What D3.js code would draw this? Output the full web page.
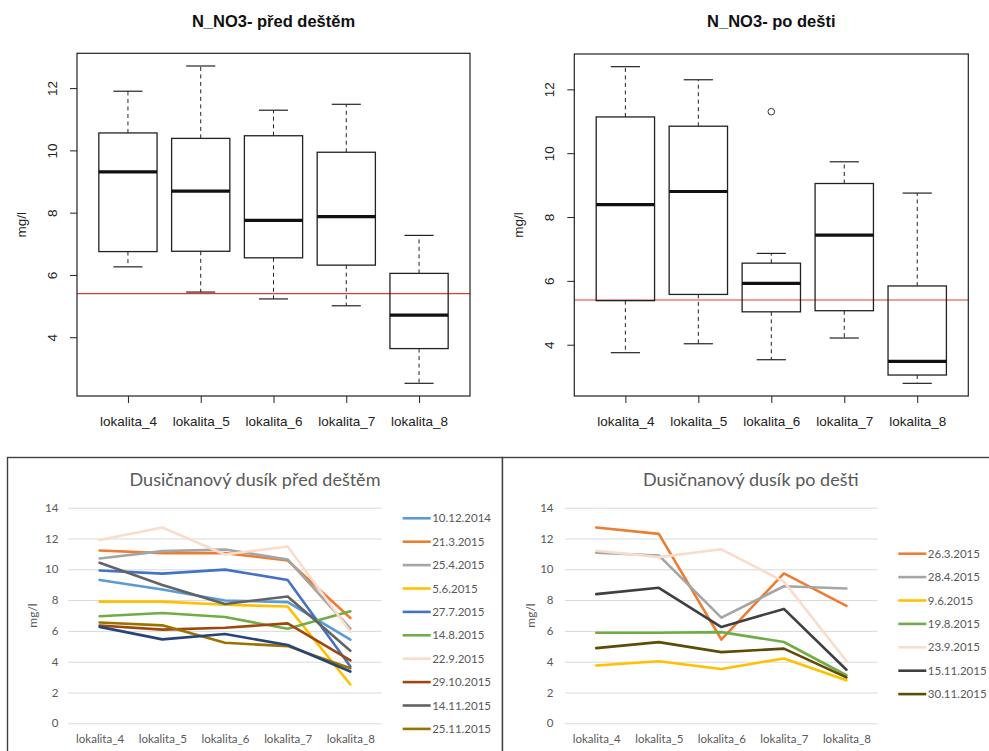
<!DOCTYPE html>
<html>
<head>
<meta charset="utf-8">
<script src="https://cdn.jsdelivr.net/npm/d3@7"></script>
<style>
  body { margin: 0; background: #fff; }
  svg { display: block; }
</style>
</head>
<body>
<svg id="chart" width="989" height="751"></svg>
<script>
// ---- data -------------------------------------------------------------
const locations = ["lokalita_4", "lokalita_5", "lokalita_6", "lokalita_7", "lokalita_8"];
const boxTicks = [4, 6, 8, 10, 12];
const lineTicks = [0, 2, 4, 6, 8, 10, 12, 14];
const limitValue = 5.4;

// Sampling before rain (values per location 4..8, mg/l)
const beforeDates = ["10.12.2014", "21.3.2015", "25.4.2015", "5.6.2015", "27.7.2015",
                     "14.8.2015", "22.9.2015", "29.10.2015", "14.11.2015", "25.11.2015", null];
const beforeColors = ["#5B9BD5", "#ED7D31", "#A5A5A5", "#FFC000", "#4472C4",
                      "#70AD47", "#FADCCB", "#9E480E", "#636363", "#997300", "#264478"];
const beforeValues = [
  [9.31, 8.69, 7.97, 7.87, 5.43],
  [11.22, 11.05, 11.05, 10.57, 6.84],
  [10.70, 11.18, 11.29, 10.64, 6.15],
  [7.90, 7.90, 7.70, 7.58, 2.52],
  [9.92, 9.72, 9.98, 9.31, 3.69],
  [6.95, 7.16, 6.90, 6.14, 7.27],
  [11.90, 12.71, 10.96, 11.48, 5.95],
  [6.35, 6.08, 6.20, 6.49, 4.08],
  [10.42, 8.98, 7.75, 8.23, 4.71],
  [6.55, 6.36, 5.23, 5.01, 3.58],
  [6.26, 5.45, 5.80, 5.08, 3.36]
];

// Sampling after rain
const afterDates = ["26.3.2015", "28.4.2015", "9.6.2015", "19.8.2015",
                    "23.9.2015", "15.11.2015", "30.11.2015"];
const afterColors = ["#ED7D31", "#A5A5A5", "#FFC000", "#70AD47",
                     "#FADCCB", "#3F3F3F", "#5E4B05"];
const afterValues = [
  [12.71, 12.30, 5.44, 9.73, 7.63],
  [11.07, 10.90, 6.86, 8.90, 8.75],
  [3.75, 4.03, 3.53, 4.21, 2.79],
  [5.88, 5.88, 5.92, 5.28, 3.12],
  [11.20, 10.79, 11.30, 9.20, 4.05],
  [8.39, 8.80, 6.25, 7.43, 3.48],
  [4.88, 5.27, 4.62, 4.85, 2.98]
];

// ---- helpers ----------------------------------------------------------
// Tukey five-number summary (same rule as R's fivenum)
function fivenum(values) {
  const x = values.slice().sort((a, b) => a - b);
  const n = x.length;
  const n4 = Math.floor((n + 3) / 2) / 2;
  const d = [1, n4, (n + 1) / 2, n + 1 - n4, n];
  return d.map(i => 0.5 * (x[Math.floor(i) - 1] + x[Math.ceil(i) - 1]));
}

// Box statistics with whiskers at 1.5 * IQR
function boxStats(values) {
  const s = fivenum(values);
  const iqr = s[3] - s[1];
  const lo = s[1] - 1.5 * iqr, hi = s[3] + 1.5 * iqr;
  const inside = values.filter(v => v >= lo && v <= hi);
  const out = values.filter(v => v < lo || v > hi);
  return { min: d3.min(inside), q1: s[1], med: s[2], q3: s[3], max: d3.max(inside), out };
}

const svg = d3.select("#chart");
const boxFont = "'Liberation Sans', Arial, sans-serif";
const xlFont = "Lato, 'Open Sans', sans-serif";

// ---- box plot panel ---------------------------------------------------
function boxPanel(cfg) {
  const { x0, x1, y0, y1, title, series } = cfg;
  const g = svg.append("g");
  const columns = locations.map((_, j) => series.map(s => s[j]));
  const stats = columns.map(boxStats);

  const all = columns.flat();
  const [lo, hi] = d3.extent(all);
  const pad = (hi - lo) * 0.04;
  const y = d3.scaleLinear().domain([lo - pad, hi + pad]).range([y1, y0]);
  const x = d3.scaleLinear().domain([0.3, locations.length + 0.7]).range([x0, x1]);
  const bw = x(0.8) - x(0);

  // limit line
  g.append("line")
    .attr("x1", x0).attr("x2", x1)
    .attr("y1", y(limitValue)).attr("y2", y(limitValue))
    .attr("stroke", "#E8392F").attr("stroke-width", 1.1);

  const box = g.selectAll("g.box").data(stats).join("g").attr("class", "box")
    .attr("transform", (d, i) => `translate(${x(i + 1)},0)`);

  // dashed whiskers
  box.append("line").attr("x1", 0).attr("x2", 0)
    .attr("y1", d => y(d.q3)).attr("y2", d => y(d.max))
    .attr("stroke", "#222").attr("stroke-dasharray", "4,3.5");
  box.append("line").attr("x1", 0).attr("x2", 0)
    .attr("y1", d => y(d.q1)).attr("y2", d => y(d.min))
    .attr("stroke", "#222").attr("stroke-dasharray", "4,3.5");
  // staples
  [d => d.max, d => d.min].forEach(f => {
    box.append("line").attr("x1", -bw / 4).attr("x2", bw / 4)
      .attr("y1", d => y(f(d))).attr("y2", d => y(f(d)))
      .attr("stroke", "#222").attr("stroke-width", 1.2);
  });
  // box
  box.append("rect")
    .attr("x", -bw / 2).attr("width", bw)
    .attr("y", d => y(d.q3)).attr("height", d => y(d.q1) - y(d.q3))
    .attr("fill", "none").attr("stroke", "#222").attr("stroke-width", 1.3);
  // median
  box.append("line").attr("x1", -bw / 2).attr("x2", bw / 2)
    .attr("y1", d => y(d.med)).attr("y2", d => y(d.med))
    .attr("stroke", "#111").attr("stroke-width", 3.2);
  // outliers
  box.selectAll("circle").data(d => d.out).join("circle")
    .attr("cx", 0).attr("cy", d => y(d)).attr("r", 3.3)
    .attr("fill", "none").attr("stroke", "#333").attr("stroke-width", 1);

  // frame
  g.append("rect").attr("x", x0).attr("y", y0)
    .attr("width", x1 - x0).attr("height", y1 - y0)
    .attr("fill", "none").attr("stroke", "#222").attr("stroke-width", 1.2);

  // y axis (labels parallel to the axis)
  const ya = g.append("g").attr("transform", `translate(${x0},0)`)
    .call(d3.axisLeft(y).tickValues(boxTicks).tickSize(7).tickFormat(d3.format("d")));
  ya.select(".domain").remove();
  ya.selectAll("line").attr("stroke", "#222");
  ya.selectAll("text")
    .attr("x", null).attr("dy", null)
    .attr("transform", "translate(-20,0) rotate(-90)")
    .style("text-anchor", "middle")
    .style("font-family", boxFont).style("font-size", "13.5px").attr("fill", "#222");

  // x axis
  const xa = g.append("g").attr("transform", `translate(0,${y1})`)
    .call(d3.axisBottom(x).tickValues(d3.range(1, locations.length + 1))
      .tickFormat(d => locations[d - 1]).tickSize(7).tickPadding(13));
  xa.select(".domain").remove();
  xa.selectAll("line").attr("stroke", "#222");
  xa.selectAll("text").style("font-family", boxFont).style("font-size", "13.5px").attr("fill", "#222");

  // axis title
  g.append("text")
    .attr("transform", `translate(${x0 - 51.5},${(y0 + y1) / 2}) rotate(-90)`)
    .attr("text-anchor", "middle")
    .style("font-family", boxFont).style("font-size", "13.5px").attr("fill", "#222")
    .text("mg/l");

  // title
  g.append("text")
    .attr("x", (x0 + x1) / 2).attr("y", 26.5)
    .attr("text-anchor", "middle")
    .style("font-family", boxFont).style("font-size", "16.5px").style("font-weight", "bold")
    .attr("fill", "#111")
    .text(title);
}

boxPanel({ x0: 77, x1: 470, y0: 53.3, y1: 396, title: "N_NO3- před deštěm", series: beforeValues });
boxPanel({ x0: 574.3, x1: 968.3, y0: 54, y1: 396, title: "N_NO3- po dešti", series: afterValues });

// ---- line chart panel -------------------------------------------------
function linePanel(cfg) {
  const { px0, px1, x0, x1, y0, y1, labelGap, yTitleX, legendX, legendY, title,
          series, colors, names } = cfg;
  const g = svg.append("g");

  // outer border
  g.append("rect").attr("x", px0).attr("y", 457.5)
    .attr("width", px1 - px0).attr("height", 320)
    .attr("fill", "#fff").attr("stroke", "#404040").attr("stroke-width", 1.4);

  const x = d3.scalePoint().domain(locations).range([x0, x1]).padding(0.5);
  const y = d3.scaleLinear().domain([0, 14]).range([y1, y0]);

  // gridlines + y labels
  const ya = g.append("g").attr("transform", `translate(${x0},0)`)
    .call(d3.axisLeft(y).tickValues(lineTicks).tickSize(-(x1 - x0)).tickPadding(labelGap));
  ya.select(".domain").remove();
  ya.selectAll("line").attr("stroke", "#D9D9D9").attr("stroke-width", 1);
  ya.selectAll("text").style("font-family", xlFont).style("font-size", "11.5px").attr("fill", "#595959");

  // category labels
  const xa = g.append("g").attr("transform", `translate(0,${y1})`)
    .call(d3.axisBottom(x).tickSize(0).tickPadding(12));
  xa.select(".domain").remove();
  xa.selectAll("text").style("font-family", xlFont).style("font-size", "11.5px").attr("fill", "#595959");

  // series lines
  const line = d3.line().x((d, i) => x(locations[i])).y(d => y(d));
  g.selectAll("path.series").data(series).join("path").attr("class", "series")
    .attr("d", line)
    .attr("fill", "none")
    .attr("stroke", (d, i) => colors[i])
    .attr("stroke-width", 2.6)
    .attr("stroke-linejoin", "round")
    .attr("stroke-linecap", "round");

  // axis title
  g.append("text")
    .attr("transform", `translate(${yTitleX},${(y0 + y1) / 2}) rotate(-90)`)
    .attr("text-anchor", "middle")
    .style("font-family", xlFont).style("font-size", "12px").attr("fill", "#595959")
    .text("mg/l");

  // chart title
  g.append("text")
    .attr("x", (px0 + px1) / 2).attr("y", 486)
    .attr("text-anchor", "middle")
    .style("font-family", xlFont).style("font-size", "18px").attr("fill", "#595959")
    .text(title);

  // legend
  const entries = names.map((n, i) => ({ n, c: colors[i] })).filter(e => e.n);
  const lg = g.selectAll("g.leg").data(entries).join("g").attr("class", "leg")
    .attr("transform", (d, i) => `translate(${legendX},${legendY + i * 23.4})`);
  lg.append("line").attr("x1", 0).attr("x2", 28).attr("y1", 0).attr("y2", 0)
    .attr("stroke", d => d.c).attr("stroke-width", 2.6);
  lg.append("text").attr("x", 29.5).attr("dy", "0.35em")
    .style("font-family", xlFont).style("font-size", "11.5px").attr("fill", "#595959")
    .text(d => d.n);
}

linePanel({
  px0: 7.5, px1: 502.5, x0: 68.3, x1: 381.7, y0: 507.7, y1: 723.3, labelGap: 10,
  yTitleX: 37, legendX: 402.7, legendY: 518.3,
  title: "Dusičnanový dusík před deštěm",
  series: beforeValues, colors: beforeColors, names: beforeDates
});
linePanel({
  px0: 502.5, px1: 999, x0: 565, x1: 877.7, y0: 507.7, y1: 723.3, labelGap: 11.5,
  yTitleX: 535.3, legendX: 898.3, legendY: 553.7,
  title: "Dusičnanový dusík po dešti",
  series: afterValues, colors: afterColors, names: afterDates
});
</script>
</body>
</html>
